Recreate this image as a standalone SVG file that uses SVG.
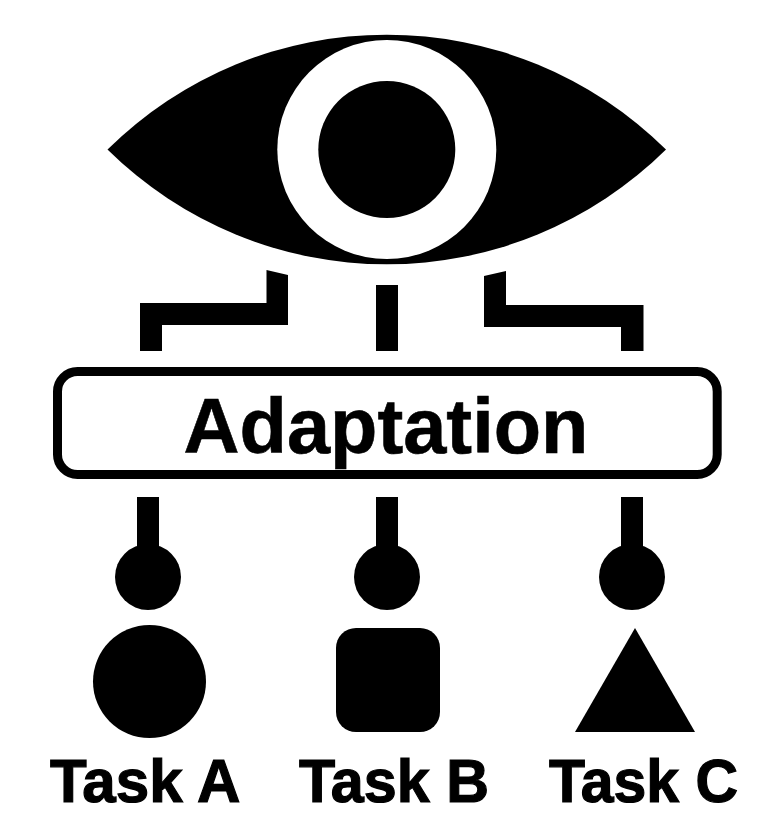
<svg xmlns="http://www.w3.org/2000/svg" width="776" height="832" viewBox="0 0 776 832">
<style>
text{font-family:"Liberation Sans",Arial,sans-serif;font-weight:700;fill:#000;stroke:#000;text-anchor:start}
.t{font-size:62px;stroke-width:1.2}
.c{fill:#000}
</style>
<rect width="776" height="832" fill="#fff"/>
<g id="eye">
<path d="M107.500 149.500A397 397 0 0 1 666 149.500A397 397 0 0 1 107.500 149.500Z" fill="#000"/>
<circle cx="386.800" cy="149.500" r="109.500" fill="#fff"/>
<circle cx="386.800" cy="149.500" r="68.500" fill="#000"/>
</g>
<g id="connectors">
<path class="c" d="M140 351V303H266.500V270L288 275V325H162V351Z"/>
<path class="c" d="M376 285H398V351H376Z"/>
<path class="c" d="M643.500 351V305H506V271L484 276V327H621V351Z"/>
<path class="c" d="M137 497H159V560H137Z"/>
<path class="c" d="M376 497H398V560H376Z"/>
<path class="c" d="M621 497H643V560H621Z"/>
</g>
<g id="adaptation">
<rect x="57.500" y="371.500" width="659.700" height="103" rx="20" fill="#fff" stroke="#000" stroke-width="9"/>
<text x="183.500" y="453" font-size="78" stroke-width="0.6" textLength="405" lengthAdjust="spacingAndGlyphs">Adaptation</text>
</g>
<g id="task-a">
<circle cx="148" cy="577" r="33"/>
<ellipse cx="149.500" cy="681.500" rx="56.500" ry="56.500"/>
<text class="t" x="50" y="802" textLength="190.500" lengthAdjust="spacingAndGlyphs">Task A</text>
</g>
<g id="task-b">
<circle cx="387" cy="577" r="33"/>
<rect x="336" y="628" width="104" height="104" rx="20"/>
<text class="t" x="299" y="802" textLength="190" lengthAdjust="spacingAndGlyphs">Task B</text>
</g>
<g id="task-c">
<circle cx="632" cy="577" r="33"/>
<path d="M635 628L695 732H575Z"/>
<text class="t" x="549" y="802" textLength="189" lengthAdjust="spacingAndGlyphs">Task C</text>
</g>
</svg>
